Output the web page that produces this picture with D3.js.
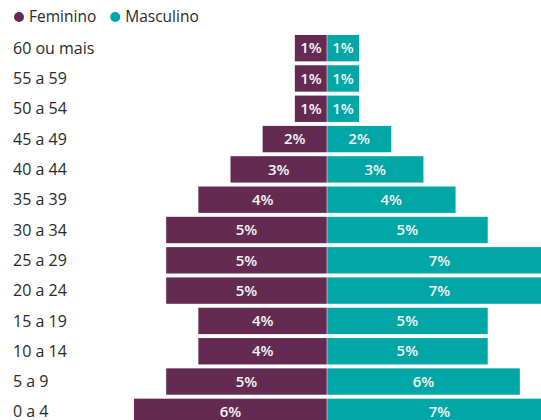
<!DOCTYPE html>
<html>
<head>
<meta charset="utf-8">
<script src="https://cdn.jsdelivr.net/npm/d3@7"></script>
<style>
  html, body { margin: 0; padding: 0; background: #fff; overflow: hidden; }
  svg { display: block; font-family: "Open Sans", "Segoe UI", sans-serif; }
</style>
</head>
<body>
<svg id="chart" width="541" height="420"></svg>
<script>
const categories = ["60 ou mais","55 a 59","50 a 54","45 a 49","40 a 44","35 a 39","30 a 34","25 a 29","20 a 24","15 a 19","10 a 14","5 a 9","0 a 4"];
const feminino = [1,1,1,2,3,4,5,5,5,4,4,5,6];
const masculino = [1,1,1,2,3,4,5,7,7,5,5,6,7];
const seriesNames = ["Feminino","Masculino"];
const colors = ["#652a52","#01a7a7"];

const W = 541, H = 420, cx = 327;
const svg = d3.select("#chart");

const y = d3.scaleBand().domain(categories).range([33, 427]).paddingInner(0.13).paddingOuter(0.065);
const xl = d3.scaleLinear().domain([0, 6]).range([cx, cx - 193]);
const xr = d3.scaleLinear().domain([0, 7]).range([cx, cx + 225]);

// legend
const leg = svg.append("g");
let lx = 19;
seriesNames.forEach((n, i) => {
  const g = leg.append("g");
  g.append("circle").attr("cx", lx).attr("cy", 17).attr("r", 5).attr("fill", colors[i]);
  const t = g.append("text").attr("x", lx + 10).attr("y", 17).attr("dy", "0.35em")
    .attr("font-size", 15.5).attr("fill", "#2b2a29").text(n);
  lx += 10 + t.node().getComputedTextLength() + 19;
});

// category labels
svg.append("g").selectAll("text").data(categories).join("text")
  .attr("x", 13).attr("y", d => y(d) + y.bandwidth() / 2).attr("dy", "0.35em")
  .attr("font-size", 16).attr("fill", "#2b2a29").text(d => d);

const bars = svg.append("g");
const rows = categories.map((c, i) => ({c, f: feminino[i], m: masculino[i]}));

bars.selectAll("rect.f").data(rows).join("rect").attr("class", "f")
  .attr("x", d => xl(d.f)).attr("width", d => xl(0) - xl(d.f))
  .attr("y", d => y(d.c)).attr("height", y.bandwidth())
  .attr("fill", colors[0]);
bars.selectAll("rect.m").data(rows).join("rect").attr("class", "m")
  .attr("x", xr(0)).attr("width", d => xr(d.m) - xr(0))
  .attr("y", d => y(d.c)).attr("height", y.bandwidth())
  .attr("fill", colors[1]);
// thin center divider
bars.append("line").attr("x1", cx).attr("x2", cx).attr("y1", 30).attr("y2", H)
  .attr("stroke", "#fff").attr("stroke-opacity", 0.5).attr("stroke-width", 1);

const lbl = svg.append("g").attr("font-size", 15).attr("font-weight", 600).attr("fill", "#f4f4f4").attr("text-anchor", "middle");
lbl.selectAll("text.f").data(rows).join("text")
  .attr("x", d => (xl(d.f) + xl(0)) / 2).attr("y", d => y(d.c) + y.bandwidth() / 2).attr("dy", "0.35em")
  .text(d => d.f + "%");
lbl.selectAll("text.m").data(rows).join("text")
  .attr("x", d => (xr(d.m) + xr(0)) / 2).attr("y", d => y(d.c) + y.bandwidth() / 2).attr("dy", "0.35em")
  .text(d => d.m + "%");
</script>
</body>
</html>
